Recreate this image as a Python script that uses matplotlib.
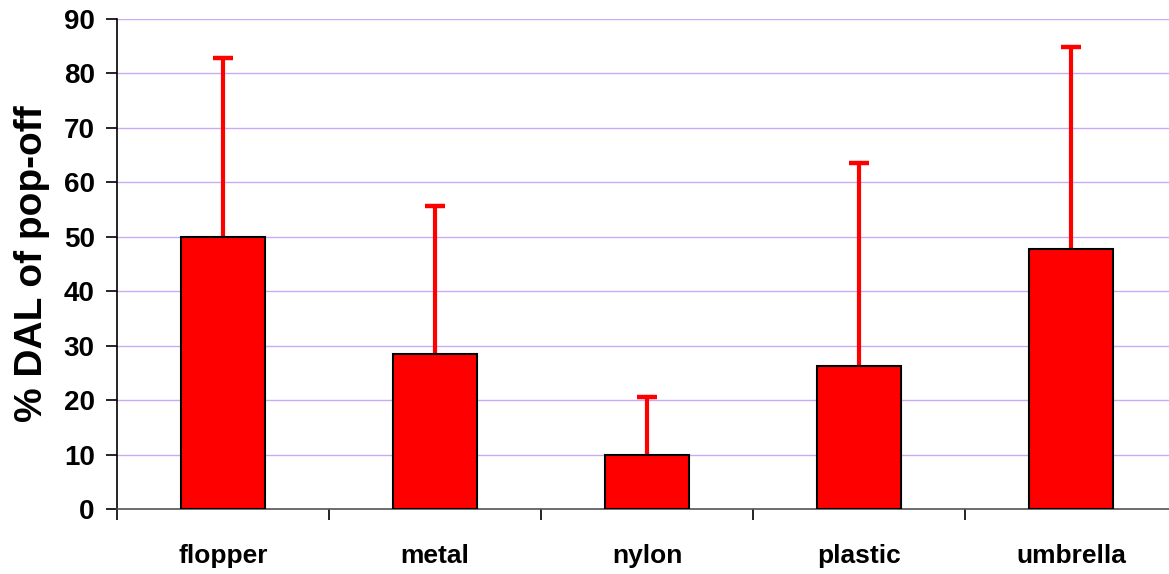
import numpy as np
import matplotlib.pyplot as plt
from matplotlib.ticker import FixedLocator

plt.rcParams['font.family'] = ['Liberation Sans', 'DejaVu Sans']
plt.rcParams['font.weight'] = 'bold'

# data
categories = ['flopper', 'metal', 'nylon', 'plastic', 'umbrella']
means = [50.0, 28.4, 10.0, 26.2, 47.8]
upper_err = [32.8, 27.3, 10.6, 37.4, 37.0]

fig = plt.figure(figsize=(11.69, 5.74), dpi=100)
ax = fig.add_axes([117 / 1169, 1 - 509 / 574, 1060 / 1169, 490 / 574])

x = np.arange(len(categories))
ax.bar(x, means, width=0.4, color='#ff0000', edgecolor='black', linewidth=1.5, zorder=3)
eb = ax.errorbar(x, means, yerr=[np.zeros(len(means)), upper_err], fmt='none',
                 ecolor='#ff0000', elinewidth=3, capsize=7, capthick=3.2, zorder=2)
# only the upper cap is shown
eb[1][0].set_visible(False)

ax.set_xlim(-0.5, len(categories) - 0.5)
ax.set_ylim(0, 90)
ax.set_yticks(np.arange(0, 91, 10))
ax.set_xticks(x)
ax.set_xticklabels(categories, fontsize=19, fontweight='bold')
ax.tick_params(axis='x', which='major', length=0, pad=25)
ax.xaxis.set_minor_locator(FixedLocator(np.arange(-0.5, len(categories), 1.0)))
ax.tick_params(axis='x', which='minor', length=8, width=1.2, direction='out')
ax.tick_params(axis='y', length=8, width=1.2, direction='out', pad=8, labelsize=20)
for lbl in ax.get_yticklabels():
    lbl.set_fontweight('bold')

ax.grid(axis='y', color='#c9aaf5', linewidth=1.0, zorder=0)
ax.set_axisbelow(True)
ax.spines['top'].set_visible(False)
ax.spines['right'].set_visible(False)
ax.spines['left'].set_linewidth(1.2)
ax.spines['bottom'].set_linewidth(1.2)
ax.spines['bottom'].set_color('#555555')

ax.set_ylabel('% DAL of pop-off', fontsize=28, fontweight='bold', labelpad=10)

fig.savefig('out.png', dpi=100)
